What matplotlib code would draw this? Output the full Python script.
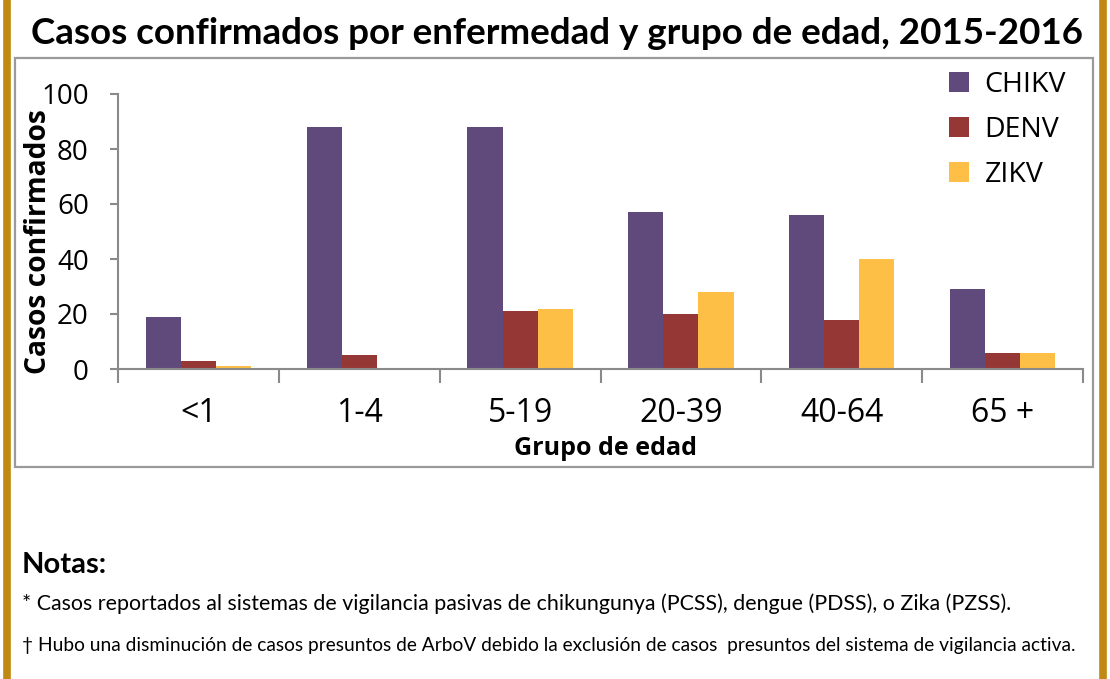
import numpy as np
import matplotlib.pyplot as plt
from matplotlib.patches import Rectangle
from matplotlib.lines import Line2D

grupos = ['<1', '1-4', '5-19', '20-39', '40-64', '65 +']
chikv = [19, 88, 88, 57, 56, 29]
denv = [3, 5, 21, 20, 18, 6]
zikv = [1, 0, 22, 28, 40, 6]
series = ['CHIKV', 'DENV', 'ZIKV']
colores = ['#604A7B', '#953735', '#FDBF45']

plt.rcParams['font.family'] = ['Open Sans', 'DejaVu Sans']

fig = plt.figure(figsize=(11.1, 6.79), dpi=100)

# gold side bars and gray chart frame
gold = '#C08A12'
fig.add_artist(Line2D([6.5/1110, 6.5/1110], [0, 1], color=gold, lw=5.5))
fig.add_artist(Line2D([1102.5/1110, 1102.5/1110], [0, 1], color=gold, lw=5.5))
fig.add_artist(Rectangle((15/1110, 212/679), 1078/1110, 409/679, fill=False,
                         edgecolor='#9a9a9a', lw=1.6, transform=fig.transFigure))

ax = fig.add_axes([118/1110, 310/679, 965/1110, 275/679])
x = np.arange(len(grupos)) + 0.5
w = 0.218
for k, (vals, c) in enumerate(zip([chikv, denv, zikv], colores)):
    ax.bar(x + (k - 1) * w, vals, w, color=c, label=series[k])

ax.set_xlim(0, 6)
ax.set_ylim(0, 100)
ax.set_xticks(np.arange(7))
ax.set_xticklabels([])
ax.set_xticks(x, minor=True)
ax.set_xticklabels(grupos, minor=True, fontsize=23)
ax.tick_params(axis='x', which='minor', length=0, pad=20)
ax.tick_params(axis='x', which='major', length=10, width=1.5, color='#8a8a8a')
ax.set_yticks([0, 20, 40, 60, 80, 100])
ax.tick_params(axis='y', length=6, width=1.5, color='#8a8a8a', labelsize=20, pad=15)
for s in ['top', 'right']:
    ax.spines[s].set_visible(False)
for s in ['left', 'bottom']:
    ax.spines[s].set_color('#8a8a8a')
    ax.spines[s].set_linewidth(1.5)

ax.set_ylabel('Casos confirmados', fontsize=20.3, fontweight='bold')
ax.yaxis.set_label_coords(-0.067, 0.465)
ax.set_xlabel('Grupo de edad', fontsize=18, fontweight='bold')
ax.xaxis.set_label_coords(0.505, -0.245)

ax.legend(loc='upper left', bbox_to_anchor=(949/1110, 1 - 71/679), bbox_transform=fig.transFigure,
          frameon=False, fontsize=20.5, handlelength=0.7, handleheight=0.7,
          handletextpad=0.55, labelspacing=0.6, borderaxespad=0, borderpad=0)

fig.text(557/1110, 1 - 34/679, 'Casos confirmados por enfermedad y grupo de edad, 2015-2016',
         ha='center', va='center', fontsize=26.5, fontweight='bold', family=['Lato', 'DejaVu Sans'])
fig.text(22/1110, 1 - 565/679, 'Notas:', ha='left', va='center', fontsize=21,
         fontweight='bold', family=['Lato', 'DejaVu Sans'])
fig.text(22/1110, 1 - 604/679,
         '* Casos reportados al sistemas de vigilancia pasivas de chikungunya (PCSS), dengue (PDSS), o Zika (PZSS).',
         ha='left', va='center', fontsize=15.4, family=['Lato', 'DejaVu Sans'])
fig.text(22/1110, 1 - 646/679,
         '\u2020 Hubo una disminución de casos presuntos de ArboV debido la exclusión de casos  presuntos del sistema de vigilancia activa.',
         ha='left', va='center', fontsize=13.8, family=['Lato', 'DejaVu Sans'])

fig.savefig('out.png', dpi=100)
